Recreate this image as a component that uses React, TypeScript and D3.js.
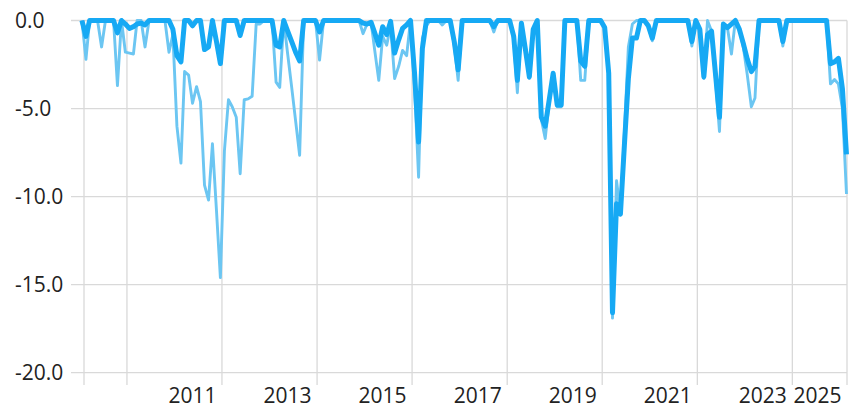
import * as d3 from "d3";

// monthly observations, dated on the 20th, Jan 2009 .. Feb 2025
const months = d3.range(194).map((i) => new Date(2009, i, 20));

// thick series (drawdown, %)
const fundDrawdown = [
  0, -0.9, 0, 0, 0, 0, 0, 0, 0, -0.7,
  0, -0.2, -0.45, -0.35, -0.2, -0.15, -0.25, 0, 0, 0,
  0, 0, 0, -0.5, -2.0, -2.35, 0, 0, -0.3, 0,
  0, -1.65, -1.5, 0, -1.2, -2.45, 0, 0, 0, 0,
  -0.85, 0, 0, 0, 0, 0, 0, 0, 0, -1.4,
  -1.5, 0, -0.6, -1.2, -1.8, -2.3, 0, 0, 0, 0,
  -0.65, 0, 0, 0, 0, 0, 0, 0, 0, 0,
  0, -0.15, -0.2, -0.1, -0.7, -1.4, -0.35, -0.8, -0.05, -1.85,
  -1.1, -0.45, -0.25, 0, -3.0, -6.9, -1.6, 0, 0, 0,
  0, 0, 0, 0, -1.2, -2.8, 0, 0, 0, 0,
  0, 0, 0, 0, -0.35, 0, 0, 0, 0, -0.9,
  -3.4, -0.15, -1.6, -3.2, -0.5, 0, -5.5, -6.0, -4.5, -3.0,
  -4.8, -4.8, 0, 0, 0, 0, -2.3, -2.6, 0, 0,
  0, 0, -0.4, -3.0, -16.6, -10.4, -11.0, -7.0, -3.3, -1.0,
  -1.0, 0, 0, -0.3, -1.0, 0, 0, 0, 0, 0,
  0, 0, 0, 0, -1.2, 0, -0.5, -3.2, -0.8, -0.6,
  -3.0, -5.5, -0.2, -0.4, -0.2, 0, -0.5, -1.3, -2.2, -2.9,
  -2.6, 0, 0, 0, 0, 0, 0, -1.2, 0, 0,
  0, 0, 0, 0, 0, 0, 0, 0, 0, -2.45,
  -2.35, -2.15, -3.9, -7.6,
];

// light series (drawdown, %)
const benchDrawdown = [
  0, -2.2, 0, 0, 0, -1.5, 0, 0, 0, -3.7,
  0, -1.8, -1.85, -1.9, 0, 0, -1.5, 0, 0, 0,
  0, 0, -1.8, -0.8, -6.0, -8.1, -2.9, -3.1, -4.7, -3.76,
  -4.6, -9.35, -10.2, -7.0, -10.8, -14.6, -7.4, -4.5, -4.9, -5.5,
  -8.7, -4.5, -4.45, -4.3, -0.2, -0.2, 0, 0, 0, -3.5,
  -3.8, 0, -1.9, -3.8, -5.7, -7.65, 0, 0, 0, 0,
  -2.25, 0, 0, 0, 0, 0, 0, 0, 0, 0,
  0, -0.75, -0.2, -0.1, -1.7, -3.4, -0.9, -1.4, -0.3, -3.3,
  -2.6, -1.7, -2.0, 0, -3.8, -8.9, -1.0, -0.3, 0, 0,
  0, -0.25, 0, 0, -1.4, -3.4, 0, 0, 0, 0,
  0, 0, 0, 0, -0.65, 0, 0, 0, 0, -1.1,
  -4.1, -0.2, -1.7, -3.3, -0.6, 0, -5.6, -6.7, -4.6, -3.1,
  -4.9, -4.9, 0, 0, 0, 0, -3.4, -3.4, 0, 0,
  0, 0, -0.4, -3.0, -16.9, -9.1, -10.9, -6.3, -1.5, -0.2,
  0, 0, 0, -0.3, -1.15, 0, 0, 0, 0, 0,
  0, 0, 0, 0, -1.45, 0, -0.5, -3.3, 0, -0.6,
  -3.3, -6.3, -0.2, -0.4, -1.9, 0, -0.5, -1.5, -3.1, -4.9,
  -4.4, 0, 0, 0, 0, 0, 0, -1.45, 0, 0,
  0, 0, 0, 0, 0, 0, 0, 0, 0, -3.6,
  -3.35, -3.6, -5.0, -9.85,
];

const yTicks = [0, -5, -10, -15, -20];
// vertical gridlines close each labelled (odd) year
const gridYears = [2009, 2011, 2013, 2015, 2017, 2019, 2021, 2023, 2025];
const labelYears = [2011, 2013, 2015, 2017, 2019, 2021, 2023, 2025];

const width = 860;
const height = 411;
const plot = { left: 84, right: 847, top: 20.5, bottom: 372.7 };

function App() {
  const x = d3
    .scaleTime()
    .domain([new Date(2009, 1, 5), new Date(2025, 1, 24)])
    .range([plot.left, plot.right]);
  const y = d3.scaleLinear().domain([-20, 0]).range([plot.bottom, plot.top]);

  const line = (vals: number[]) =>
    d3
      .line<number>()
      .x((_, i) => x(months[i]))
      .y((d) => y(d))(vals) ?? "";

  const yearX = (yr: number) => Math.min(x(new Date(yr + 1, 0, 1)), plot.right);
  const fontFamily = "'Open Sans', 'Noto Sans', sans-serif";

  return (
    <svg
      width={width}
      height={height}
      style={{ position: "absolute", left: 0, top: 0, background: "#fff" }}
    >
      <g stroke="#d9d9d9" strokeWidth={1.3}>
        {yTicks.map((t) => (
          <line key={t} x1={71} x2={plot.right} y1={y(t)} y2={y(t)} />
        ))}
        <line x1={plot.left} x2={plot.left} y1={plot.top} y2={385} />
        {gridYears.map((yr) => (
          <line key={yr} x1={yearX(yr)} x2={yearX(yr)} y1={plot.top} y2={385} />
        ))}
      </g>
      <g fontFamily={fontFamily} fontSize={21} fill="#222">
        {yTicks.map((t) => (
          <text key={t} x={15} y={y(t)} dy="0.36em">
            {t.toFixed(1)}
          </text>
        ))}
        {labelYears.map((yr) => (
          <text key={yr} x={yearX(yr) - 5.5} y={403} textAnchor="end">
            {yr}
          </text>
        ))}
      </g>
      <path
        d={line(benchDrawdown)}
        fill="none"
        stroke="#6cc6f2"
        strokeWidth={2.9}
        strokeLinejoin="round"
      />
      <path
        d={line(fundDrawdown)}
        fill="none"
        stroke="#16a9f4"
        strokeWidth={5}
        strokeLinejoin="round"
      />
    </svg>
  );
}

export default App;
